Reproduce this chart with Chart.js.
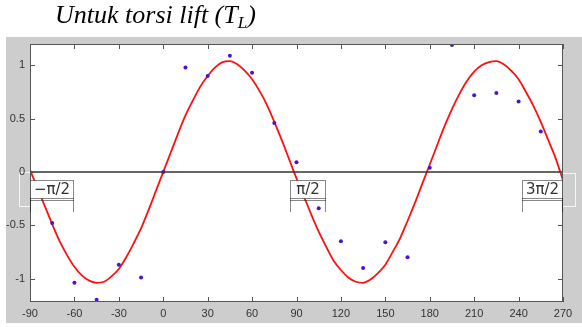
<!DOCTYPE html>
<html>
<head>
<meta charset="utf-8">
<script src="https://cdn.jsdelivr.net/npm/chart.js@4.4.0/dist/chart.umd.min.js"></script>
<style>
  body { margin: 0; background: #fff; }
  #wrap { position: relative; width: 582px; height: 327px; }
  #title {
    position: absolute; left: 55px; top: 0px;
    font-family: 'Liberation Serif', serif; font-style: italic; font-size: 26px; color: #000;
    white-space: nowrap; line-height: 30px;
  }
  #title sub { font-size: 17px; vertical-align: -5px; line-height: 0; }
</style>
</head>
<body>
<div id="wrap">
  <canvas id="chart" width="582" height="327"></canvas>
  <div id="title">Untuk torsi lift (T<sub>L</sub>)</div>
</div>
<script>
// red fitted curve, sampled every 5 degrees
const curveAngles = [-90,-85,-80,-75,-70,-65,-60,-55,-50,-45,-40,-35,-30,-25,-20,-15,-10,-5,
  0,5,10,15,20,25,30,35,40,45,50,55,60,65,70,75,80,85,90,95,100,105,110,115,120,125,130,135,
  140,145,150,155,160,165,170,175,180,185,190,195,200,205,210,215,220,225,230,235,240,245,250,
  255,260,265,270];
const curveValues = [0.02,-0.15,-0.32,-0.49,-0.65,-0.78,-0.89,-0.97,-1.02,-1.04,-1.03,-0.98,-0.91,
  -0.80,-0.67,-0.53,-0.36,-0.18,0,0.18,0.36,0.53,0.67,0.80,0.90,0.98,1.03,1.04,1.01,0.95,0.87,
  0.76,0.63,0.47,0.30,0.12,-0.06,-0.23,-0.40,-0.56,-0.70,-0.83,-0.92,-0.99,-1.03,-1.04,-1.01,
  -0.95,-0.87,-0.75,-0.62,-0.46,-0.29,-0.11,0.07,0.25,0.43,0.59,0.73,0.85,0.94,1.00,1.03,1.04,
  1.01,0.95,0.87,0.75,0.62,0.47,0.30,0.13,-0.08];

// measured points
const pointAngles = [-90,-75,-60,-45,-30,-15,0,15,30,45,60,75,90,105,120,135,150,165,180,195,210,225,240,255,270];
const pointValues = [-0.1,-0.48,-1.04,-1.2,-0.87,-0.99,0,0.98,0.9,1.09,0.93,0.46,0.09,-0.34,-0.65,
  -0.9,-0.66,-0.8,0.04,1.19,0.72,0.74,0.66,0.38,-0.1];

const xTicks = [-90,-60,-30,0,30,60,90,120,150,180,210,240,270];
const yTicks = [-1,-0.5,0,0.5,1];

// marker boxes on the zero line
const markLabels = ['\u2212\u03c0/2', '\u03c0/2', '3\u03c0/2'];
const markLeft  = [-90, 85.5, 242];
const markRight = [-61.2, 109, 269.5];

const frame = {
  id: 'frame',
  beforeDraw(chart) {
    const { ctx, chartArea: a } = chart;
    ctx.save();
    ctx.fillStyle = '#fff';
    ctx.fillRect(0, 0, chart.width, chart.height);
    ctx.fillStyle = '#cdcdcd';
    ctx.fillRect(6, 37, 576, 286);
    ctx.fillStyle = '#fff';
    ctx.fillRect(a.left, a.top, a.right - a.left, a.bottom - a.top);
    // white outlines in the margins
    ctx.strokeStyle = '#f4f4f4';
    ctx.lineWidth = 1;
    ctx.strokeRect(19.5, 172.5, 11, 34);
    ctx.strokeRect(a.right - 0.5, 173.5, 13, 33);
    ctx.restore();
  },
  afterDraw(chart) {
    const { ctx, chartArea: a, scales } = chart;
    const xs = scales.x, ys = scales.y;
    ctx.save();
    ctx.strokeStyle = '#555';
    ctx.lineWidth = 1;
    ctx.strokeRect(a.left + 0.5, a.top + 0.5, a.right - a.left - 1, a.bottom - a.top - 1);
    ctx.beginPath();
    xTicks.forEach(v => {
      const px = Math.round(xs.getPixelForValue(v)) + 0.5;
      ctx.moveTo(px, a.bottom); ctx.lineTo(px, a.bottom - 5);
      ctx.moveTo(px, a.top); ctx.lineTo(px, a.top + 5);
    });
    yTicks.forEach(v => {
      const py = Math.round(ys.getPixelForValue(v)) + 0.5;
      ctx.moveTo(a.left, py); ctx.lineTo(a.left + 5, py);
      ctx.moveTo(a.right, py); ctx.lineTo(a.right - 5, py);
    });
    ctx.stroke();

    // dotted label boxes
    const top = 180.5, mid = 198.5, bot = 212;
    ctx.setLineDash([1, 1]);
    ctx.strokeStyle = '#111';
    ctx.font = '15px "DejaVu Sans", sans-serif';
    ctx.textAlign = 'center';
    ctx.textBaseline = 'middle';
    markLabels.forEach((t, i) => {
      const l = Math.round(xs.getPixelForValue(markLeft[i])) + 0.5;
      const r = Math.round(xs.getPixelForValue(markRight[i])) + 0.5;
      ctx.fillStyle = '#fff';
      ctx.fillRect(l, top, r - l, mid - top);
      ctx.strokeRect(l, top, r - l, mid - top);
      ctx.beginPath();
      ctx.moveTo(l, mid + 2); ctx.lineTo(r, mid + 2);
      ctx.moveTo(l, mid); ctx.lineTo(l, bot);
      ctx.moveTo(r, mid); ctx.lineTo(r, bot);
      ctx.stroke();
      ctx.fillStyle = '#333';
      ctx.fillText(t, (l + r) / 2, (top + mid) / 2 + 1);
    });
    ctx.restore();
  }
};

new Chart(document.getElementById('chart'), {
  type: 'scatter',
  data: {
    datasets: [
      {
        data: [{ x: -90, y: 0 }, { x: 270, y: 0 }],
        showLine: true, borderColor: '#333', borderWidth: 1.5, pointRadius: 0
      },
      {
        data: pointAngles.map((x, i) => ({ x, y: pointValues[i] })),
        pointRadius: 2, pointBackgroundColor: '#4a14c8', pointBorderWidth: 0, borderColor: '#4a14c8'
      },
      {
        data: curveAngles.map((x, i) => ({ x, y: curveValues[i] })),
        showLine: true, borderColor: '#ff1010', borderWidth: 1.8, pointRadius: 0,
        cubicInterpolationMode: 'monotone'
      }
    ]
  },
  options: {
    responsive: false,
    animation: false,
    layout: { padding: { left: 0, top: 44, right: 19, bottom: 0 } },
    plugins: { legend: { display: false }, tooltip: { enabled: false } },
    scales: {
      x: {
        type: 'linear', min: -90, max: 270,
        afterBuildTicks: s => { s.ticks = xTicks.map(v => ({ value: v })); },
        afterFit: s => { s.height = 25; },
        grid: { display: false, drawTicks: false },
        border: { display: false },
        ticks: { padding: 5, color: '#333', font: { family: 'Liberation Sans', size: 11 }, callback: v => String(v) }
      },
      y: {
        min: -1.22, max: 1.2,
        afterBuildTicks: s => { s.ticks = yTicks.map(v => ({ value: v })); },
        afterFit: s => { s.width = 30; },
        grid: { display: false, drawTicks: false },
        border: { display: false },
        ticks: { padding: 5, color: '#333', font: { family: 'Liberation Sans', size: 11 }, callback: v => String(v) }
      }
    }
  },
  plugins: [frame]
});
</script>
</body>
</html>
